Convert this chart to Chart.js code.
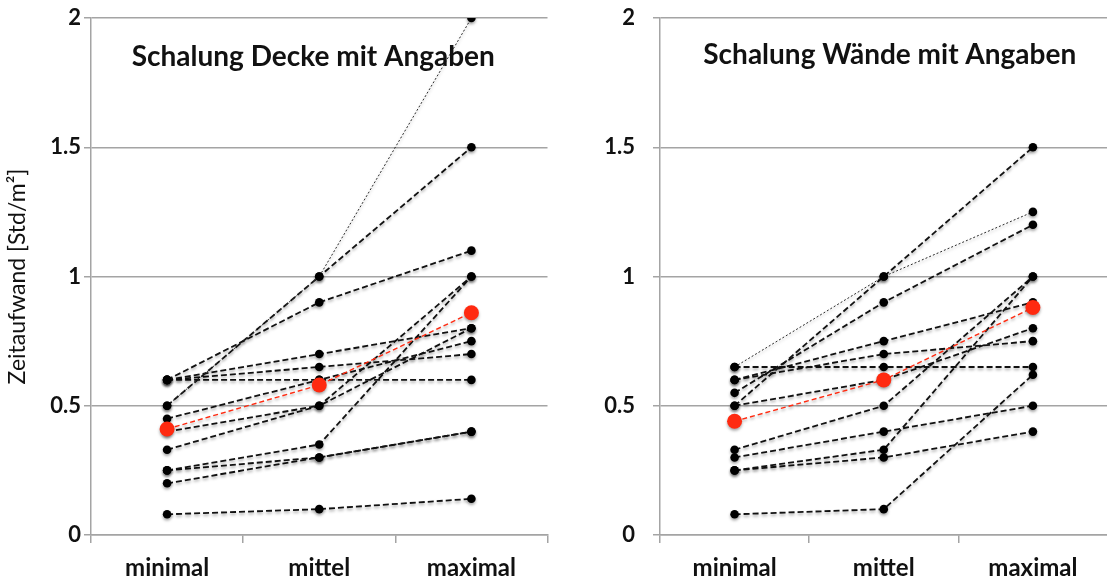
<!DOCTYPE html>
<html>
<head>
<meta charset="utf-8">
<script src="https://cdn.jsdelivr.net/npm/chart.js@4"></script>
<style>
  html, body { margin: 0; padding: 0; background: #fff; overflow: hidden; }
  #wrap { position: relative; width: 1107px; height: 583px; overflow: hidden; }
  #left { position: absolute; left: 0; top: 0; width: 555px; height: 583px; }
  #right { position: absolute; left: 555px; top: 0; width: 560px; height: 583px; }
</style>
</head>
<body>
<div id="wrap">
  <div id="left"><canvas id="decke"></canvas></div>
  <div id="right"><canvas id="waende"></canvas></div>
</div>
<script>
// Kategorien und Achsenbeschriftung
const categories = ['minimal', 'mittel', 'maximal'];
const yTickLabels = ['0', '0.5', '1', '1.5', '2'];

// Schalung Decke: je Angabe ein Wert pro Kategorie (gleicher Index = gleiche Angabe)
const deckeMinimal = [0.5, 0.5, 0.6, 0.6, 0.6, 0.6, 0.45, 0.4, 0.33, 0.25, 0.25, 0.2, 0.08];
const deckeMittel  = [1.0, 1.0, 0.9, 0.7, 0.65, 0.6, 0.6, 0.5, 0.5, 0.35, 0.3, 0.3, 0.1];
const deckeMaximal = [2.0, 1.5, 1.1, 0.8, 0.7, 0.6, 0.75, 1.0, 0.8, 1.0, 0.4, 0.4, 0.14];
const deckeMittelwert = [0.41, 0.58, 0.86];
const deckeFeinLinie = [0];

// Schalung Wände
const waendeMinimal = [0.65, 0.5, 0.55, 0.6, 0.6, 0.65, 0.5, 0.33, 0.3, 0.25, 0.25, 0.08];
const waendeMittel  = [1.0, 1.0, 0.9, 0.75, 0.7, 0.65, 0.6, 0.5, 0.4, 0.33, 0.3, 0.1];
const waendeMaximal = [1.25, 1.5, 1.2, 0.9, 0.75, 0.65, 0.8, 1.0, 0.5, 1.0, 0.4, 0.62];
const waendeMittelwert = [0.44, 0.60, 0.88];
const waendeFeinLinie = [0];

const FONT = 'Lato, "Open Sans", sans-serif';
const GRID = '#a4a4a4';

function buildDatasets(mins, mids, maxs, mean, thin) {
  const sets = mins.map((v, i) => {
    const fine = thin.includes(i);
    return {
      data: [v, mids[i], maxs[i]],
      borderColor: fine ? '#2a2a2a' : '#111',
      borderWidth: fine ? 1 : 1.8,
      borderDash: fine ? [2, 2] : [6, 3],
      pointRadius: 4.3,
      pointBackgroundColor: '#000',
      pointBorderWidth: 0,
      tension: 0,
      order: 2
    };
  });
  sets.push({
    data: mean,
    borderColor: '#ff2a10',
    borderWidth: 1.4,
    borderDash: [5, 3],
    pointRadius: 7.5,
    pointBackgroundColor: '#ff2a10',
    pointBorderWidth: 0,
    tension: 0,
    order: 0
  });
  return sets;
}

// weicher Schatten unter Linien und Punkten
const shadowPlugin = {
  id: 'shadow',
  beforeDatasetDraw(chart) {
    const c = chart.ctx;
    c.save();
    c.shadowColor = 'rgba(0,0,0,0.35)';
    c.shadowBlur = 3;
    c.shadowOffsetY = 2;
  },
  afterDatasetDraw(chart) {
    chart.ctx.restore();
  }
};

// Überschrift innerhalb der Zeichenfläche
const innerTitle = {
  id: 'innerTitle',
  afterDraw(chart, args, opts) {
    const c = chart.ctx;
    const a = chart.chartArea;
    c.save();
    c.font = 'bold 28px ' + FONT;
    c.fillStyle = '#111';
    c.textAlign = 'center';
    c.textBaseline = 'middle';
    c.fillText(opts.text, (a.left + a.right) / 2 + opts.dx, a.top + opts.dy);
    c.restore();
  }
};

function makeChart(id, datasets, title, axisWidth, yTitle, labelPad, padRight, titleDx, titleDy) {
  return new Chart(document.getElementById(id), {
    type: 'line',
    data: { labels: categories, datasets },
    plugins: [shadowPlugin, innerTitle],
    options: {
      responsive: true,
      maintainAspectRatio: false,
      animation: false,
      events: [],
      layout: { padding: { top: 18, right: padRight, bottom: 0, left: 0 } },
      plugins: {
        legend: { display: false },
        tooltip: { enabled: false },
        innerTitle: { text: title, dx: titleDx, dy: titleDy }
      },
      scales: {
        x: {
          offset: true,
          grid: { offset: true, drawOnChartArea: false, drawTicks: true, tickLength: 8, color: GRID, lineWidth: 1.5 },
          border: { display: true, color: GRID, width: 1.5 },
          ticks: { color: '#111', padding: 11, font: { family: FONT, weight: 'bold', size: 24 } },
          afterFit(s) { s.height = 48; }
        },
        y: {
          min: 0, max: 2,
          grid: { color: GRID, lineWidth: 1.5, drawTicks: true, tickLength: 7 },
          border: { display: true, color: GRID, width: 1.5 },
          ticks: {
            stepSize: 0.5,
            color: '#111',
            padding: labelPad,
            font: { family: FONT, weight: 'bold', size: 22 },
            callback: (v, i) => yTickLabels[i]
          },
          title: {
            display: !!yTitle,
            text: yTitle,
            color: '#111',
            padding: { top: 4, bottom: 0 },
            font: { family: FONT, size: 23 }
          },
          afterFit(s) {
            s.width = axisWidth;
            s.paddingTop = 10;
            s.paddingBottom = 10;
          }
        }
      }
    }
  });
}

makeChart('decke',
  buildDatasets(deckeMinimal, deckeMittel, deckeMaximal, deckeMittelwert, deckeFeinLinie),
  'Schalung Decke mit Angaben', 91, 'Zeitaufwand [Std/m²]', 3, 7, -6, 39);

makeChart('waende',
  buildDatasets(waendeMinimal, waendeMittel, waendeMaximal, waendeMittelwert, waendeFeinLinie),
  'Schalung Wände mit Angaben', 105, '', 18, 4, 6, 37);
</script>
</body>
</html>
